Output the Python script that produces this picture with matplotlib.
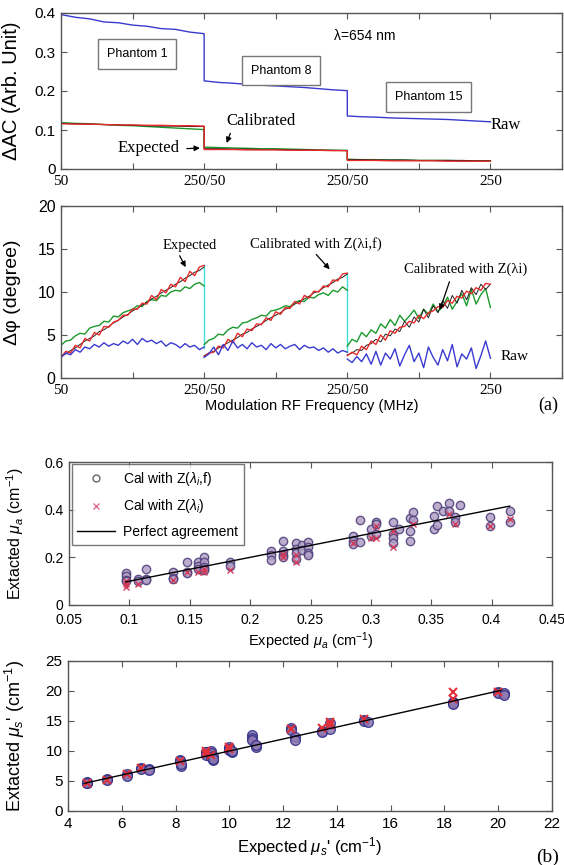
import numpy as np
import matplotlib
matplotlib.use('Agg')
import matplotlib.pyplot as plt
from matplotlib.lines import Line2D

plt.rcParams['font.family'] = ['Liberation Sans', 'DejaVu Sans']
plt.rcParams['mathtext.fontset'] = 'custom'
plt.rcParams['mathtext.rm'] = 'Liberation Sans'
plt.rcParams['mathtext.it'] = 'Liberation Sans:italic'
plt.rcParams['mathtext.bf'] = 'Liberation Sans:bold'

# ------------------------------------------------------------------ data
seg_tick_labels = ['50', '', '250/50', '', '250/50', '', '250', '']

# Panel 1: delta AC, three phantoms (11 samples 50..250 MHz each)
ac_raw = [
    [0.396, 0.389, 0.385, 0.377, 0.375, 0.369, 0.366, 0.360, 0.358, 0.351, 0.347],
    [0.226, 0.222, 0.220, 0.217, 0.215, 0.213, 0.211, 0.209, 0.206, 0.203, 0.201],
    [0.136, 0.134, 0.133, 0.131, 0.130, 0.129, 0.128, 0.127, 0.125, 0.123, 0.121],
]
ac_cal = [
    [0.119, 0.117, 0.116, 0.114, 0.112, 0.111, 0.109, 0.107, 0.105, 0.103, 0.101],
    [0.056, 0.055, 0.054, 0.053, 0.052, 0.052, 0.051, 0.050, 0.049, 0.048, 0.048],
    [0.025, 0.024, 0.024, 0.023, 0.023, 0.022, 0.022, 0.022, 0.021, 0.021, 0.021],
]
ac_calf = [
    [0.117, 0.116, 0.115, 0.114, 0.113, 0.112, 0.111, 0.110, 0.110, 0.109, 0.109],
    [0.052, 0.052, 0.051, 0.051, 0.050, 0.050, 0.049, 0.049, 0.048, 0.048, 0.047],
    [0.024, 0.024, 0.023, 0.023, 0.023, 0.022, 0.022, 0.022, 0.022, 0.021, 0.021],
]
ac_exp = [
    [0.116, 0.115, 0.115, 0.114, 0.113, 0.113, 0.112, 0.112, 0.111, 0.111, 0.110],
    [0.050, 0.050, 0.050, 0.049, 0.049, 0.049, 0.048, 0.048, 0.048, 0.047, 0.047],
    [0.022, 0.022, 0.022, 0.021, 0.021, 0.021, 0.021, 0.020, 0.020, 0.020, 0.020],
]

# Panel 2: delta phase (31 samples per phantom)
ph_exp = [
    [2.4, 3.1, 2.9, 3.8, 3.5, 4.6, 4.3, 5.3, 5.0, 6.0, 5.9, 6.5, 6.7, 7.3, 7.3, 8.0,
     8.0, 8.7, 8.6, 9.6, 9.1, 10.3, 9.9, 10.9, 10.6, 11.7, 11.2, 12.4, 11.9, 12.9, 13.1],
    [2.5, 2.9, 3.0, 3.7, 3.5, 4.5, 4.1, 5.2, 4.8, 5.7, 5.5, 6.3, 6.2, 7.0, 6.7, 7.7,
     7.4, 8.2, 8.1, 8.9, 8.6, 9.6, 9.3, 10.1, 10.0, 10.7, 10.6, 11.4, 11.3, 12.1, 12.2],
    [2.6, 3.0, 2.7, 3.7, 3.3, 4.3, 3.9, 5.0, 4.4, 5.5, 5.2, 5.9, 6.0, 6.6, 6.4, 7.3,
     6.9, 7.6, 7.8, 8.3, 8.2, 9.0, 8.7, 9.5, 9.3, 10.1, 9.8, 10.5, 10.2, 11.0, 10.9],
]
ph_calf = [
    [2.5, 2.8, 3.2, 3.5, 3.9, 4.3, 4.6, 4.9, 5.4, 5.6, 6.0, 6.4, 6.7, 7.1, 7.4, 7.8,
     8.1, 8.5, 8.8, 9.2, 9.5, 9.9, 10.2, 10.5, 10.9, 11.2, 11.6, 11.9, 12.3, 12.5, 12.9],
    [2.6, 2.9, 3.1, 3.5, 3.8, 4.1, 4.4, 4.7, 5.1, 5.3, 5.7, 6.0, 6.3, 6.7, 7.0, 7.3,
     7.6, 8.0, 8.2, 8.6, 8.9, 9.2, 9.5, 9.9, 10.1, 10.5, 10.8, 11.1, 11.5, 11.7, 12.1],
    [2.7, 2.9, 3.3, 3.2, 3.8, 4.0, 4.5, 4.2, 5.1, 4.9, 5.7, 5.4, 6.6, 5.9, 7.1, 6.5,
     8.0, 7.0, 8.4, 7.6, 9.0, 8.1, 9.6, 8.7, 10.2, 9.1, 10.5, 9.7, 10.9, 10.3, 10.9],
]
ph_cal = [
    [3.8, 4.3, 4.4, 4.9, 5.2, 5.1, 5.8, 6.0, 6.1, 6.6, 6.5, 7.2, 7.1, 7.6, 7.8, 8.0,
     8.4, 8.3, 8.9, 9.1, 9.0, 9.6, 9.5, 10.0, 10.2, 10.1, 10.6, 10.4, 10.9, 11.1, 10.7],
    [3.9, 4.4, 4.6, 5.1, 5.0, 5.6, 5.9, 5.8, 6.4, 6.5, 6.8, 7.0, 7.3, 7.2, 7.8, 7.9,
     8.1, 8.4, 8.3, 8.8, 9.0, 8.9, 9.4, 9.3, 9.7, 9.9, 9.6, 10.2, 10.0, 10.6, 10.2],
    [3.7, 4.5, 4.2, 5.3, 4.8, 5.6, 5.2, 6.3, 5.8, 6.8, 6.1, 7.3, 6.6, 7.2, 7.9, 6.9,
     8.0, 7.4, 8.6, 7.7, 8.3, 9.4, 8.0, 8.9, 9.8, 8.4, 10.3, 8.6, 9.7, 10.4, 8.2],
]
ph_raw = [
    [2.4, 2.9, 2.7, 3.3, 3.0, 3.6, 3.4, 3.9, 3.6, 4.1, 3.7, 4.0, 3.8, 4.3, 4.0, 4.5,
     3.9, 4.6, 4.2, 4.4, 4.0, 4.3, 3.7, 4.1, 3.9, 3.5, 4.0, 3.6, 3.8, 3.3, 3.6],
    [2.4, 2.8, 3.6, 2.7, 3.9, 3.2, 4.3, 3.5, 3.9, 3.4, 4.1, 3.6, 3.8, 3.3, 4.0, 3.5,
     3.9, 3.4, 3.7, 3.9, 3.3, 3.8, 3.5, 3.6, 3.2, 3.5, 3.0, 3.4, 2.9, 3.2, 3.0],
    [2.2, 1.8, 2.5, 1.9, 2.8, 1.6, 3.1, 1.5, 2.9, 2.2, 3.4, 1.4, 2.7, 3.8, 1.9, 2.9,
     1.2, 3.6, 2.4, 1.5, 3.3, 2.0, 3.9, 1.3, 2.8, 2.2, 3.5, 1.1, 2.6, 4.3, 2.3],
]
ph_jump_x = [1.0, 1.0, np.nan, 2.0, 2.0]
ph_jump_y = [13.1, 3.5, np.nan, 12.2, 3.0]

# Panel 3: mu_a
mua_exp_o = [0.097, 0.097, 0.097, 0.097, 0.107, 0.107, 0.114, 0.114, 0.114,
             0.136, 0.136, 0.136, 0.148, 0.148, 0.148, 0.157, 0.157, 0.157,
             0.162, 0.162, 0.162, 0.162, 0.162, 0.183, 0.183,
             0.217, 0.217, 0.217, 0.227, 0.227, 0.227, 0.227,
             0.238, 0.238, 0.238, 0.238, 0.243, 0.243, 0.248, 0.248, 0.248, 0.248,
             0.285, 0.285, 0.285, 0.291, 0.291, 0.300, 0.300, 0.304, 0.304, 0.304,
             0.318, 0.318, 0.318, 0.318, 0.323, 0.332, 0.332, 0.332, 0.335, 0.335,
             0.352, 0.352, 0.355, 0.355, 0.360, 0.365, 0.365, 0.370, 0.370, 0.374,
             0.399, 0.399, 0.415, 0.415]
mua_cal_o = [0.135, 0.120, 0.105, 0.100, 0.110, 0.100, 0.150, 0.110, 0.105,
             0.140, 0.115, 0.110, 0.180, 0.140, 0.135, 0.180, 0.165, 0.150,
             0.200, 0.180, 0.160, 0.150, 0.145, 0.180, 0.165,
             0.225, 0.210, 0.190, 0.270, 0.225, 0.210, 0.200,
             0.260, 0.235, 0.220, 0.195, 0.250, 0.230, 0.265, 0.245, 0.220, 0.210,
             0.290, 0.270, 0.255, 0.355, 0.265, 0.320, 0.290, 0.350, 0.340, 0.300,
             0.350, 0.300, 0.280, 0.260, 0.320, 0.365, 0.310, 0.270, 0.390, 0.355,
             0.375, 0.320, 0.415, 0.335, 0.395, 0.430, 0.395, 0.370, 0.350, 0.420,
             0.370, 0.330, 0.395, 0.350]
mua_exp_x = [0.097, 0.097, 0.097, 0.107, 0.136, 0.148, 0.157, 0.162, 0.162, 0.183,
             0.227, 0.227, 0.238, 0.238, 0.285, 0.300, 0.304, 0.304, 0.318, 0.318,
             0.335, 0.365, 0.370, 0.399, 0.415]
mua_cal_x = [0.090, 0.075, 0.100, 0.090, 0.105, 0.140, 0.140, 0.150, 0.140, 0.145,
             0.200, 0.215, 0.180, 0.210, 0.260, 0.280, 0.330, 0.280, 0.245, 0.310,
             0.340, 0.380, 0.340, 0.330, 0.360]
mua_line = [0.097, 0.415]

# Panel 4: mu_s'
mus_exp_o = [4.7, 4.7, 4.7, 5.45, 5.45, 6.2, 6.2, 6.7, 6.7, 7.0, 7.0, 8.15, 8.15,
             8.2, 8.2, 9.15, 9.15, 9.15, 9.15, 9.3, 9.3, 9.3, 9.4, 9.4, 9.4,
             10.0, 10.0, 10.0, 10.1, 10.1, 10.85, 10.85, 10.85, 11.0, 11.0,
             12.3, 12.3, 12.45, 12.45, 13.45, 13.45, 13.75, 13.75, 15.0, 15.0, 15.15,
             18.3, 18.3, 18.3, 20.0, 20.0, 20.2, 20.2]
mus_cal_o = [4.7, 4.8, 4.6, 5.3, 5.2, 6.2, 5.9, 7.1, 7.0, 7.0, 6.9, 8.5, 8.3,
             7.5, 7.8, 9.8, 9.6, 9.9, 9.3, 10.0, 9.6, 9.0, 8.5, 9.2, 8.7,
             10.6, 10.4, 10.2, 9.9, 10.0, 12.6, 12.2, 11.8, 10.6, 11.0,
             13.8, 13.5, 12.3, 11.8, 13.4, 13.2, 13.7, 14.6, 15.2, 15.0, 14.8,
             18.2, 18.0, 17.9, 19.8, 19.7, 19.7, 19.3]
mus_exp_x = [4.7, 5.45, 6.2, 6.7, 8.15, 9.15, 9.15, 9.3, 10.0, 10.0, 12.3, 13.45,
             13.75, 13.75, 15.0, 18.3, 18.3, 20.0]
mus_cal_x = [4.7, 5.2, 6.1, 7.2, 8.4, 10.0, 9.5, 9.3, 10.6, 10.3, 13.7, 13.9,
             14.8, 14.3, 15.3, 19.9, 18.6, 19.8]
mus_line = [4.6, 20.1]

# ------------------------------------------------------------------ figure
W, H = 564, 865
fig = plt.figure(figsize=(W / 100, H / 100), dpi=100)


def add_ax(l, t, r, b):
    return fig.add_axes([l / W, 1 - b / H, (r - l) / W, (b - t) / H])


SP = '#555555'


def style(ax):
    for s in ax.spines.values():
        s.set_color(SP)
        s.set_linewidth(1.0)
    ax.tick_params(direction='in', top=True, right=True, length=4,
                   color=SP, width=0.8, pad=4)


serif = 'Liberation Serif'
BLUE = '#3a3ad0'
RED = '#e82a2a'
GREEN = '#1c9a2c'
BLACK = '#202020'

# ---- Panel 1
ax1 = add_ax(61, 13, 562, 169)
style(ax1)
xs1 = np.concatenate([np.linspace(0, 1, 11) + i for i in range(3)])
ax1.plot(xs1, np.concatenate(ac_raw), color=BLUE, lw=1.0)
ax1.plot(xs1, np.concatenate(ac_cal), color=GREEN, lw=1.0)
ax1.plot(xs1, np.concatenate(ac_calf), color=BLACK, lw=0.8)
ax1.plot(xs1, np.concatenate(ac_exp), color=RED, lw=1.0)
ax1.set_xlim(0, 3.5)
ax1.set_ylim(0, 0.4)
ax1.set_xticks(np.arange(0, 3.51, 0.5))
ax1.set_xticklabels(seg_tick_labels, family=serif, fontsize=11)
ax1.set_yticks([0, 0.1, 0.2, 0.3, 0.4])
ax1.set_yticklabels(['0', '0.1', '0.2', '0.3', '0.4'], fontsize=11)
ax1.set_ylabel('ΔAC (Arb. Unit)', fontsize=14.5)
ax1.yaxis.set_label_coords(-0.08, 0.5)
box = dict(boxstyle='square,pad=0.7', fc='white', ec='#777777', lw=1.0)
ax1.text(0.53, 0.295, 'Phantom 1', fontsize=9, ha='center', va='center', bbox=box)
ax1.text(1.54, 0.252, 'Phantom 8', fontsize=9, ha='center', va='center', bbox=box)
ax1.text(2.57, 0.184, 'Phantom 15', fontsize=9, ha='center', va='center', bbox=box)
ax1.text(2.12, 0.342, 'λ=654 nm', fontsize=10, ha='center', va='center')
ax1.text(3.0, 0.112, 'Raw', family=serif, fontsize=12, ha='left', va='center')
ax1.text(1.40, 0.124, 'Calibrated', family=serif, fontsize=12, ha='center', va='center')
ax1.text(0.61, 0.053, 'Expected', family=serif, fontsize=12, ha='center', va='center')
arr = dict(arrowstyle='-|>', color='black', lw=0.9, mutation_scale=8)
ax1.annotate('', xy=(0.99, 0.054), xytext=(0.86, 0.052), arrowprops=arr)
ax1.annotate('', xy=(1.15, 0.060), xytext=(1.19, 0.098), arrowprops=arr)

# ---- Panel 2
ax2 = add_ax(61, 206, 562, 378)
style(ax2)


def segs(data):
    x = np.concatenate([np.append(np.linspace(0, 1, len(d)) + i, np.nan)
                        for i, d in enumerate(data)])
    y = np.concatenate([np.append(np.array(d, float), np.nan) for d in data])
    return x, y


ax2.plot(ph_jump_x, ph_jump_y, color='#40e0e0', lw=1.0)
ax2.plot(*segs(ph_cal), color=GREEN, lw=1.0)
ax2.plot(*segs(ph_calf), color=BLACK, lw=0.7)
ax2.plot(*segs(ph_exp), color=RED, lw=1.0)
ax2.plot(*segs(ph_raw), color=BLUE, lw=1.0)
ax2.set_xlim(0, 3.5)
ax2.set_ylim(0, 20)
ax2.set_xticks(np.arange(0, 3.51, 0.5))
ax2.set_xticklabels(seg_tick_labels, family=serif, fontsize=11)
ax2.set_yticks([0, 5, 10, 15, 20])
ax2.set_yticklabels(['0', '5', '10', '15', '20'], fontsize=11.5)
ax2.set_ylabel('Δφ (degree)', fontsize=14)
ax2.yaxis.set_label_coords(-0.08, 0.5)
ax2.set_xlabel('Modulation RF Frequency (MHz)', fontsize=10.5, labelpad=2)
ax2.text(0.90, 15.4, 'Expected', family=serif, fontsize=10.5, ha='center', va='center')
ax2.text(1.78, 15.6, 'Calibrated with Z(λi,f)', family=serif, fontsize=10.5,
         ha='center', va='center')
ax2.text(2.83, 12.6, 'Calibrated with Z(λi)', family=serif, fontsize=10.5,
         ha='center', va='center')
ax2.text(3.17, 2.5, 'Raw', family=serif, fontsize=11, ha='center', va='center')
ax2.annotate('', xy=(0.88, 12.6), xytext=(0.82, 14.5), arrowprops=arr)
ax2.annotate('', xy=(1.89, 12.4), xytext=(1.77, 14.6), arrowprops=arr)
ax2.annotate('', xy=(2.64, 7.6), xytext=(2.72, 11.5), arrowprops=arr)
fig.text(548 / W, 1 - 405 / H, '(a)', family=serif, fontsize=13, ha='center', va='center')

# ---- Panel 3
ax3 = add_ax(69, 462, 552, 605)
style(ax3)
ax3.tick_params(axis='x', pad=6)
CIRC_FC = '#b3a0c6'
CIRC_EC = '#4b3c78'
XR = '#d23a5a'
ax3.plot(mua_exp_o, mua_cal_o, 'o', ms=6, mfc=CIRC_FC, mec=CIRC_EC, mew=1.0, alpha=0.85)
ax3.plot(mua_exp_x, mua_cal_x, 'x', ms=5, color=XR, mew=1.0)
ax3.plot(mua_line, mua_line, '-', color='black', lw=1.0)
ax3.set_xlim(0.05, 0.45)
ax3.set_ylim(0, 0.6)
ax3.set_xticks([0.05, 0.1, 0.15, 0.2, 0.25, 0.3, 0.35, 0.4, 0.45])
ax3.set_xticklabels(['0.05', '0.1', '0.15', '0.2', '0.25', '0.3', '0.35', '0.4', '0.45'],
                    fontsize=10)
ax3.set_yticks([0, 0.2, 0.4, 0.6])
ax3.set_yticklabels(['0', '0.2', '0.4', '0.6'], fontsize=10)
ax3.set_xlabel(r'Expected $\mu_a$ (cm$^{-1}$)', fontsize=10.5, labelpad=2)
ax3.set_ylabel(r'Extacted $\mu_a$ (cm$^{-1}$)', fontsize=11.5)
ax3.yaxis.set_label_coords(-0.09, 0.5)
handles = [
    Line2D([], [], ls='none', marker='o', ms=5, mfc='white', mec='#666666', mew=1.0),
    Line2D([], [], ls='none', marker='x', ms=5, color='#e07090', mew=1.0),
    Line2D([], [], color='black', lw=1.0),
]
labels = [r'Cal with Z($\lambda_i$,f)', r'Cal with Z($\lambda_i$)', 'Perfect agreement']
leg = ax3.legend(handles, labels, loc='upper left', bbox_to_anchor=(0.006, 0.985),
                 borderaxespad=0, fontsize=10, frameon=True, fancybox=False,
                 handlelength=2.7, labelspacing=0.7, borderpad=0.4, handletextpad=0.6)
leg.get_frame().set_edgecolor('#555555')
leg.get_frame().set_linewidth(1.0)

# ---- Panel 4
ax4 = add_ax(68, 661, 552, 811)
style(ax4)
ax4.plot(mus_exp_o, mus_cal_o, 'o', ms=7, mfc='#8f78b0', mec='#2e2e88', mew=1.0, alpha=0.85)
ax4.plot(mus_exp_x, mus_cal_x, 'x', ms=6, color='#e0303a', mew=1.5)
ax4.plot(mus_line, mus_line, '-', color='black', lw=1.0)
ax4.set_xlim(4, 22)
ax4.set_ylim(0, 25)
ax4.set_xticks(np.arange(4, 22.1, 2))
ax4.set_xticklabels([str(v) for v in range(4, 23, 2)], fontsize=11)
ax4.set_yticks([0, 5, 10, 15, 20, 25])
ax4.set_yticklabels(['0', '5', '10', '15', '20', '25'], fontsize=11)
ax4.set_xlabel(r"Expected $\mu_s$' (cm$^{-1}$)", fontsize=12, labelpad=3)
ax4.set_ylabel(r"Extacted $\mu_s$' (cm$^{-1}$)", fontsize=13)
ax4.yaxis.set_label_coords(-0.085, 0.5)
fig.text(548 / W, 1 - 857 / H, '(b)', family=serif, fontsize=14, ha='center', va='center')

fig.savefig('out.png', dpi=100)
